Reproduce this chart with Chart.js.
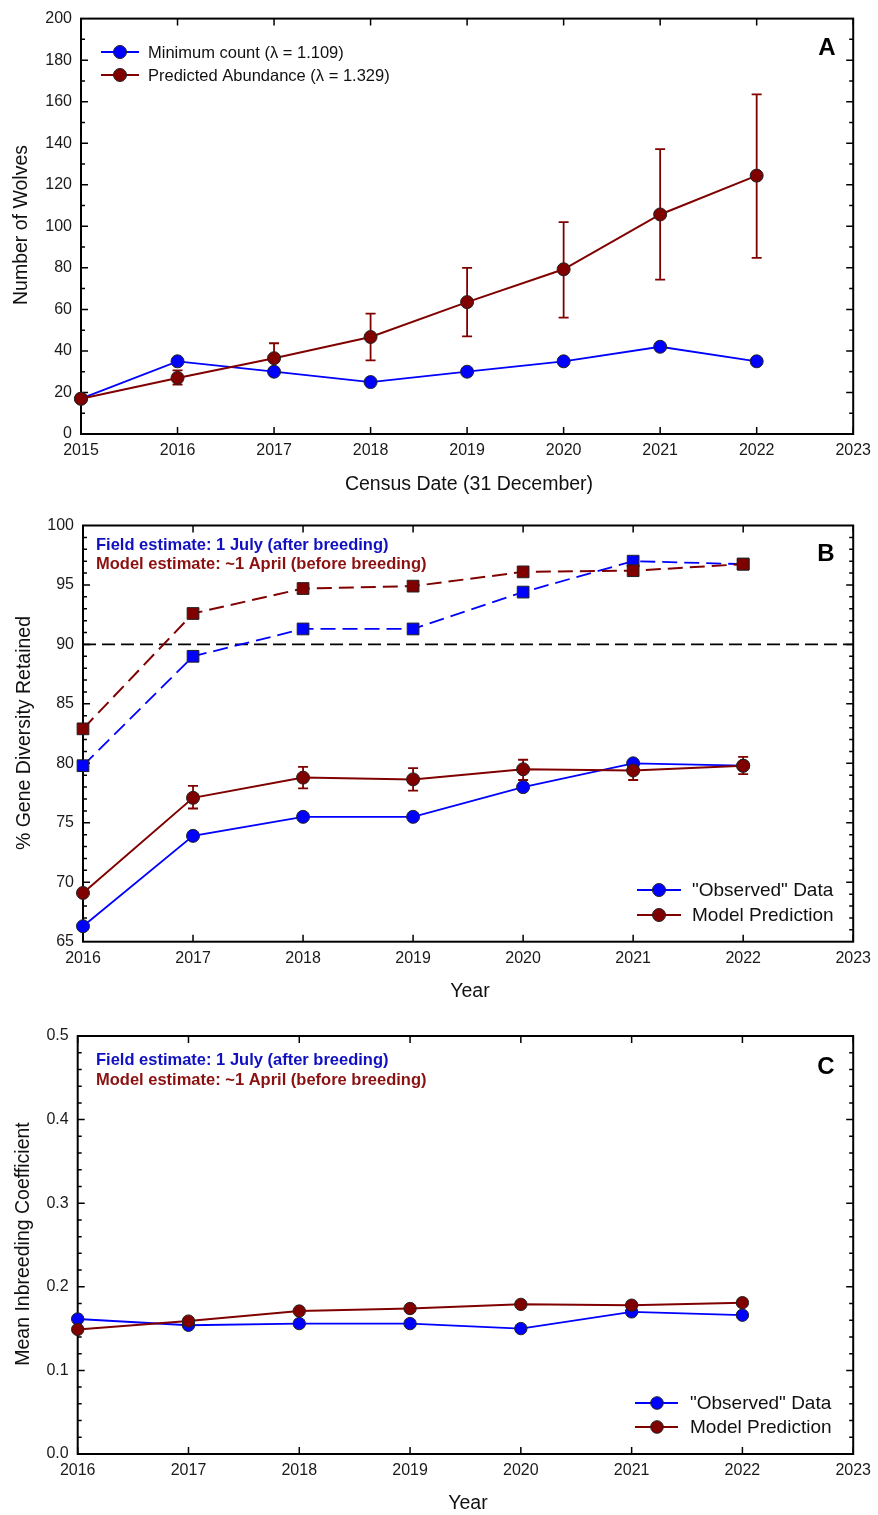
<!DOCTYPE html>
<html>
<head>
<meta charset="utf-8">
<script src="https://cdn.jsdelivr.net/npm/chart.js@4.4.0/dist/chart.umd.min.js"></script>
<style>
  body { margin: 0; background: #fff; }
  #wrap { position: relative; width: 878px; height: 1515px; }
  canvas { position: absolute; left: 0; }
</style>
</head>
<body>
<div id="wrap">
  <canvas id="chartA" width="878" height="505" style="top:0px"></canvas>
  <canvas id="chartB" width="878" height="505" style="top:505px"></canvas>
  <canvas id="chartC" width="878" height="505" style="top:1010px"></canvas>
</div>
<script>
// --- panel A: wolf numbers ---
const yearsA = [2015, 2016, 2017, 2018, 2019, 2020, 2021, 2022];
const minCount = [17, 35, 30, 25, 30, 35, 42, 35];
const predAbund = [17, 27, 36.5, 46.7, 63.5, 79.3, 105.7, 124.4];
const predLow = [null, 23.8, 30, 35.4, 47, 56, 74.3, 84.8];
const predHigh = [null, 30.6, 43.7, 58, 80, 102, 137.2, 163.5];

// --- panel B: gene diversity ---
const yearsBC = [2016, 2017, 2018, 2019, 2020, 2021, 2022];
const gdFieldSq = [79.8, 89.0, 91.3, 91.3, 94.4, 97.0, 96.75];
const gdModelSq = [82.9, 92.6, 94.7, 94.9, 96.1, 96.2, 96.75];
const gdObserved = [66.3, 73.9, 75.5, 75.5, 78.0, 80.0, 79.8];
const gdModel = [69.1, 77.1, 78.8, 78.65, 79.5, 79.4, 79.8];
const gdModelLow = [null, 76.2, 77.9, 77.7, 78.6, 78.6, 79.1];
const gdModelHigh = [null, 78.1, 79.7, 79.6, 80.3, 80.2, 80.55];
const gdThreshold = 90;

// --- panel C: inbreeding ---
const inbObserved = [0.1615, 0.154, 0.156, 0.156, 0.150, 0.170, 0.166];
const inbModel = [0.149, 0.159, 0.171, 0.174, 0.179, 0.178, 0.181];

// text
const legendA = ['Minimum count (\u03bb = 1.109)', 'Predicted Abundance (\u03bb = 1.329)'];
const legendBC = ['"Observed" Data', 'Model Prediction'];
const noteBC = ['Field estimate: 1 July (after breeding)', 'Model estimate: ~1 April (before breeding)'];

const BLUE = '#0000ff';
const RED = '#800000';
const FONT = "'Liberation Sans', Arial, sans-serif";
Chart.defaults.font.family = FONT;
Chart.defaults.font.size = 16;
Chart.defaults.color = '#1a1a1a';

function pts(xs, ys) {
  return xs.map((x, i) => ({ x: x, y: ys[i] }));
}

function series(label, xs, ys, color, opts) {
  return Object.assign({
    label: label,
    data: pts(xs, ys),
    borderColor: color,
    backgroundColor: color,
    pointBackgroundColor: color,
    pointBorderColor: '#222',
    pointBorderWidth: 1,
    pointRadius: 6.5,
    pointStyle: 'circle',
    borderWidth: color === BLUE ? 1.8 : 2,
    tension: 0,
    clip: false
  }, opts || {});
}

// draws frame, inward ticks, error bars, ref line, texts, legend
function panelPlugin(p) {
  return {
    id: 'panel' + p.letter,
    beforeDatasetsDraw(chart) {
      const ctx = chart.ctx, a = chart.chartArea, xs = chart.scales.x, ys = chart.scales.y;
      ctx.save();
      // threshold line
      if (p.refLine != null) {
        const py = ys.getPixelForValue(p.refLine);
        ctx.strokeStyle = '#000';
        ctx.lineWidth = 1.8;
        ctx.setLineDash([13, 6]);
        ctx.beginPath(); ctx.moveTo(a.left, py); ctx.lineTo(a.right, py); ctx.stroke();
        ctx.setLineDash([]);
      }
      // frame
      ctx.strokeStyle = '#000';
      ctx.lineWidth = 2;
      ctx.strokeRect(a.left, a.top, a.right - a.left, a.bottom - a.top);
      ctx.lineWidth = 1.5;
      ctx.beginPath();
      for (let v = xs.min; v <= xs.max; v += 1) {
        const px = xs.getPixelForValue(v);
        ctx.moveTo(px, a.top); ctx.lineTo(px, a.top + 7);
        ctx.moveTo(px, a.bottom); ctx.lineTo(px, a.bottom - 7);
      }
      const n = Math.round((ys.max - ys.min) / p.minor);
      for (let i = 1; i < n; i++) {
        const v = ys.min + i * p.minor;
        const major = i % p.minorPer === 0;
        const len = major ? 7 : 4;
        const py = ys.getPixelForValue(v);
        ctx.moveTo(a.left, py); ctx.lineTo(a.left + len, py);
        ctx.moveTo(a.right, py); ctx.lineTo(a.right - len, py);
      }
      ctx.stroke();
      // error bars
      if (p.err) {
        ctx.strokeStyle = RED;
        ctx.lineWidth = 1.8;
        ctx.beginPath();
        p.err.xs.forEach((xv, i) => {
          const lo = p.err.lo[i], hi = p.err.hi[i];
          if (lo == null || hi == null) return;
          const px = xs.getPixelForValue(xv);
          const pl = ys.getPixelForValue(lo), ph = ys.getPixelForValue(hi);
          ctx.moveTo(px, pl); ctx.lineTo(px, ph);
          ctx.moveTo(px - 5, pl); ctx.lineTo(px + 5, pl);
          ctx.moveTo(px - 5, ph); ctx.lineTo(px + 5, ph);
        });
        ctx.stroke();
      }
      ctx.restore();
    },
    afterDraw(chart) {
      const ctx = chart.ctx;
      ctx.save();
      ctx.fillStyle = '#111';
      // axis titles
      ctx.font = '19.5px ' + FONT;
      ctx.textAlign = 'center';
      ctx.textBaseline = 'middle';
      ctx.fillText(p.xTitle, p.xTitlePos[0], p.xTitlePos[1]);
      ctx.save();
      ctx.translate(p.yTitlePos[0], p.yTitlePos[1]);
      ctx.rotate(-Math.PI / 2);
      ctx.fillText(p.yTitle, 0, 0);
      ctx.restore();
      // panel letter
      ctx.fillStyle = '#000';
      ctx.font = 'bold 24px ' + FONT;
      ctx.fillText(p.letter, p.letterPos[0], p.letterPos[1]);
      // notes
      if (p.notes) {
        ctx.textAlign = 'left';
        ctx.font = 'bold 16.5px ' + FONT;
        ctx.fillStyle = '#1010c0';
        ctx.fillText(p.notes[0], 96, p.noteY[0]);
        ctx.fillStyle = '#8b1010';
        ctx.fillText(p.notes[1], 96, p.noteY[1]);
      }
      // legend
      const L = p.legend;
      ctx.textAlign = 'left';
      ctx.font = L.size + 'px ' + FONT;
      L.labels.forEach((lab, i) => {
        const y = L.ys[i];
        const col = L.colors[i];
        ctx.strokeStyle = col;
        ctx.lineWidth = col === BLUE ? 1.8 : 2;
        ctx.beginPath(); ctx.moveTo(L.x0, y); ctx.lineTo(L.x1, y); ctx.stroke();
        ctx.beginPath(); ctx.arc(L.mx, y, L.r, 0, Math.PI * 2);
        ctx.fillStyle = col; ctx.fill();
        ctx.lineWidth = 1; ctx.strokeStyle = '#222'; ctx.stroke();
        ctx.fillStyle = '#111';
        ctx.fillText(lab, L.tx, y + 1);
      });
      ctx.restore();
    }
  };
}

function makeChart(id, p) {
  return new Chart(document.getElementById(id), {
    type: 'line',
    data: { datasets: p.datasets },
    options: {
      responsive: false,
      animation: false,
      events: [],
      layout: { padding: { top: p.top, right: p.right, left: 0, bottom: 0 } },
      plugins: { legend: { display: false }, tooltip: { enabled: false } },
      scales: {
        x: {
          type: 'linear', min: p.xMin, max: 2023,
          grid: { display: false, drawTicks: false, tickLength: 0 }, border: { display: false },
          ticks: { stepSize: 1, autoSkip: false, maxRotation: 0, padding: 7, callback: v => String(v) },
          afterFit: s => { s.height = p.xh; }
        },
        y: {
          type: 'linear', min: p.yMin, max: p.yMax,
          grid: { display: false, drawTicks: false, tickLength: 0 }, border: { display: false },
          ticks: { stepSize: p.yStep, padding: p.yPad, callback: p.yFmt },
          afterFit: s => { s.width = p.left; }
        }
      }
    },
    plugins: [panelPlugin(p)]
  });
}

// A
makeChart('chartA', {
  letter: 'A', letterPos: [827, 48],
  top: 16, right: 21, left: 81, xh: 71,
  xMin: 2015, yMin: 0, yMax: 200, yStep: 20, yPad: 9, minor: 10, minorPer: 2,
  yFmt: v => String(v),
  xTitle: 'Census Date (31 December)', xTitlePos: [469, 485],
  yTitle: 'Number of Wolves', yTitlePos: [22, 225],
  err: { xs: yearsA, lo: predLow, hi: predHigh },
  legend: { labels: legendA, colors: [BLUE, RED], ys: [52, 75], x0: 101, x1: 139, mx: 120, tx: 148, r: 6.5, size: 16.5 },
  datasets: [
    series(legendA[0], yearsA, minCount, BLUE, { order: 2 }),
    series(legendA[1], yearsA, predAbund, RED, { order: 1 })
  ]
});

// B
makeChart('chartB', {
  letter: 'B', letterPos: [826, 49],
  top: 20.5, right: 20, left: 83, xh: 68.3,
  xMin: 2016, yMin: 65, yMax: 100, yStep: 5, yPad: 9, minor: 1, minorPer: 5,
  yFmt: v => String(v),
  xTitle: 'Year', xTitlePos: [470, 487],
  yTitle: '% Gene Diversity Retained', yTitlePos: [25, 228],
  refLine: gdThreshold,
  notes: noteBC, noteY: [40, 59],
  err: { xs: yearsBC, lo: gdModelLow, hi: gdModelHigh },
  legend: { labels: legendBC, colors: [BLUE, RED], ys: [385, 410], x0: 637, x1: 681, mx: 659, tx: 692, r: 6.5, size: 19 },
  datasets: [
    series('field sq', yearsBC, gdFieldSq, BLUE, { order: 4, borderDash: [15, 7], pointStyle: 'rect', pointRadius: 8.3 }),
    series('model sq', yearsBC, gdModelSq, RED, { order: 3, borderDash: [15, 7], pointStyle: 'rect', pointRadius: 8.3 }),
    series(legendBC[0], yearsBC, gdObserved, BLUE, { order: 2 }),
    series(legendBC[1], yearsBC, gdModel, RED, { order: 1 })
  ]
});

// C
makeChart('chartC', {
  letter: 'C', letterPos: [826, 57.5],
  top: 26, right: 21, left: 77.7, xh: 61,
  xMin: 2016, yMin: 0, yMax: 0.5, yStep: 0.1, yPad: 9, minor: 0.02, minorPer: 5,
  yFmt: v => v.toFixed(1),
  xTitle: 'Year', xTitlePos: [468, 494],
  yTitle: 'Mean Inbreeding Coefficient', yTitlePos: [23.5, 234],
  notes: noteBC, noteY: [50, 70],
  legend: { labels: legendBC, colors: [BLUE, RED], ys: [393, 417], x0: 635, x1: 678, mx: 657, tx: 690, r: 6.3, size: 19 },
  datasets: [
    series(legendBC[0], yearsBC, inbObserved, BLUE, { order: 2, pointRadius: 6.2 }),
    series(legendBC[1], yearsBC, inbModel, RED, { order: 1, pointRadius: 6.2 })
  ]
});
</script>
</body>
</html>
